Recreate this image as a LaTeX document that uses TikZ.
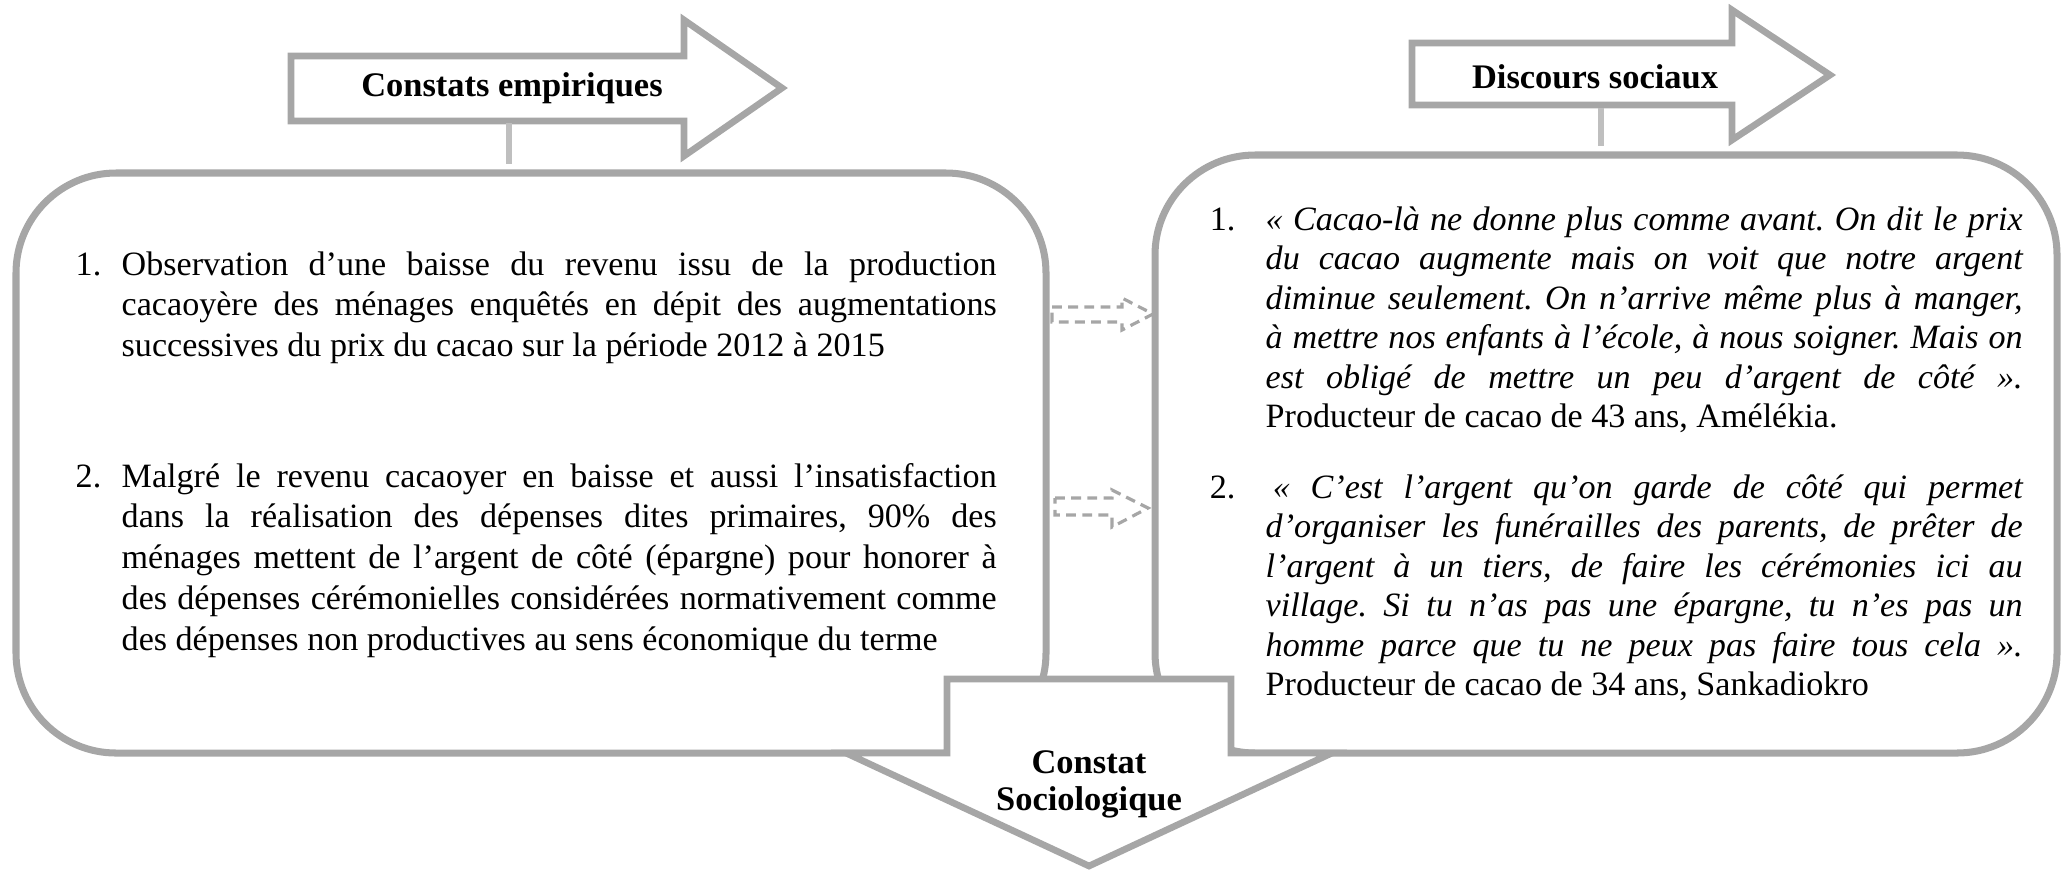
\documentclass[tikz,border=0pt]{standalone}
\usepackage{fontspec}
\setmainfont{Liberation Serif}
\usetikzlibrary{positioning}
\hyphenpenalty=10000
\exhyphenpenalty=10000
\frenchspacing

\begin{document}
\begin{tikzpicture}
		\tikzstyle{box}=[draw=black!35, line width=2pt, rounded corners=1cm, inner sep=0pt]
		\tikzstyle{block arrow}=[draw=black!35, line width=1.9pt, fill=white, line join=miter]
		\tikzstyle{dash arrow}=[draw=black!35, line width=0.9pt, dash pattern=on 2.8pt off 1.8pt]
		\tikzstyle{stem}=[draw=black!25, line width=1.9pt, shorten >=0.05cm]
		\tikzstyle{title}=[font=\fontsize{9.8pt}{10.5pt}\selectfont\bfseries, align=center, inner sep=0pt]
		\tikzstyle{para}=[font=\fontsize{9.7pt}{11.66pt}\selectfont, align=justify, inner sep=0pt, anchor=base west]
		\tikzstyle{quote}=[para, font=\fontsize{9.7pt}{11.24pt}\selectfont\itshape]
		\tikzstyle{num}=[font=\fontsize{9.7pt}{11.66pt}\selectfont, inner sep=0pt]
		
		\useasboundingbox (0,0) rectangle (20.62,-8.71);
		
		% The two rounded boxes
		\node[box, minimum width=10.30cm, minimum height=5.80cm] (emp) at (5.31,-4.63) {};
		\node[box, minimum width=9.02cm, minimum height=5.98cm] (disc) at (16.06,-4.54) {};
		
		% Title arrows on top
		\draw[block arrow] (2.91,-0.56) -- (6.84,-0.56) -- (6.84,-0.20) -- (7.82,-0.88)
		-- (6.84,-1.56) -- (6.84,-1.21) -- (2.91,-1.21) -- cycle;
		\node[title] (emptitle) at (5.12,-0.88) {Constats empiriques};
		\coordinate (empstem) at (5.09,-1.23);
		\draw[stem] (empstem) -- (empstem |- emp.north);
		
		\draw[block arrow] (14.12,-0.43) -- (17.32,-0.43) -- (17.32,-0.10) -- (18.30,-0.75)
		-- (17.32,-1.40) -- (17.32,-1.05) -- (14.12,-1.05) -- cycle;
		\node[title] (disctitle) at (15.95,-0.77) {Discours sociaux};
		\coordinate (discstem) at (16.01,-1.08);
		\draw[stem] (discstem) -- (discstem |- disc.north);
		
		% Empirical findings
		\node[para, text width=8.75cm] (emp1) at (1.21,-2.75) {Observation d’une baisse du revenu issu de la production\linebreak
			cacaoyère des ménages enquêtés en dépit des augmentations\linebreak
			successives du prix du cacao sur la période 2012 à 2015};
		\node[num, base left=0.19cm of emp1] {1.};
		
		\node[para, text width=8.75cm] (emp2) at (1.21,-4.87) {Malgré le revenu cacaoyer en baisse et aussi l’insatisfaction\linebreak
			dans la réalisation des dépenses dites primaires, 90\% des\linebreak
			ménages mettent de l’argent de côté (épargne) pour honorer à\linebreak
			des dépenses cérémonielles considérées normativement comme\linebreak
			des dépenses non productives au sens économique du terme};
		\node[num, base left=0.19cm of emp2] {2.};
		
		% Social discourses
		\node[quote, text width=7.57cm] (disc1) at (12.65,-2.30) {«~Cacao-là ne donne plus comme avant. On dit le prix\linebreak
			du cacao augmente mais on voit que notre argent\linebreak
			diminue seulement. On n’arrive même plus à manger,\linebreak
			à mettre nos enfants à l’école, à nous soigner. Mais on\linebreak
			est obligé de mettre un peu d’argent de côté~».\linebreak
			\upshape Producteur de cacao de 43 ans, Amélékia.};
		\node[num, base left=0.29cm of disc1] {1.};
		
		\node[quote, text width=7.57cm] (disc2) at (12.65,-4.98) {\hspace*{2pt}«~C’est l’argent qu’on garde de côté qui permet\linebreak
			d’organiser les funérailles des parents, de prêter de\linebreak
			l’argent à un tiers, de faire les cérémonies ici au\linebreak
			village. Si tu n’as pas une épargne, tu n’es pas un\linebreak
			homme parce que tu ne peux pas faire tous cela~».\linebreak
			\upshape Producteur de cacao de 34 ans, Sankadiokro};
		\node[num, base left=0.29cm of disc2] {2.};
		
		% Dashed links between the boxes
		\draw[dash arrow] (10.52,-3.07) -- (11.22,-3.07) -- (11.22,-2.98) -- (11.53,-3.14)
		-- (11.22,-3.30) -- (11.22,-3.22) -- (10.52,-3.22) -- cycle;
		\draw[dash arrow] (10.55,-4.98) -- (11.12,-4.98) -- (11.12,-4.90) -- (11.48,-5.08)
		-- (11.12,-5.27) -- (11.12,-5.15) -- (10.55,-5.15) -- cycle;
		
		% Sociological finding
		\draw[block arrow] (9.47,-6.79) -- (12.31,-6.79) -- (12.31,-7.53) -- (13.32,-7.53)
		-- (10.89,-8.66) -- (8.46,-7.53) -- (9.47,-7.53) -- cycle;
		\node[title] (soc) at (10.89,-7.84) {Constat\\Sociologique};
\end{tikzpicture}
\end{document}
